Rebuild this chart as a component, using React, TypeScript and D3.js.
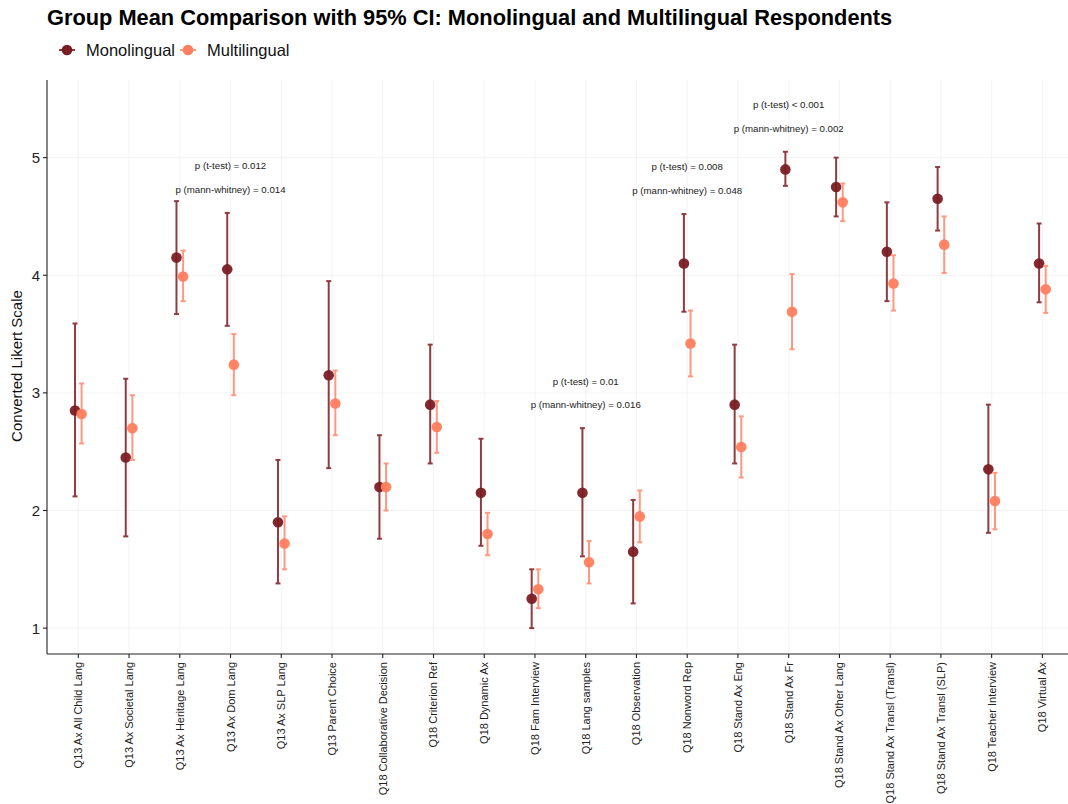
import React from 'react'
import * as d3 from 'd3'

const categories = [
  'Q13 Ax All Child Lang', 'Q13 Ax Societal Lang', 'Q13 Ax Heritage Lang', 'Q13 Ax Dom Lang',
  'Q13 Ax SLP Lang', 'Q13 Parent Choice', 'Q18 Collaborative Decision', 'Q18 Criterion Ref',
  'Q18 Dynamic Ax', 'Q18 Fam Interview', 'Q18 Lang samples', 'Q18 Observation',
  'Q18 Nonword Rep', 'Q18 Stand Ax Eng', 'Q18 Stand Ax Fr', 'Q18 Stand Ax Other Lang',
  'Q18 Stand Ax Transl (Transl)', 'Q18 Stand Ax Transl (SLP)', 'Q18 Teacher Interview', 'Q18 Virtual Ax',
]

// Monolingual: mean, lower CI, upper CI
const monoMean = [2.85, 2.45, 4.15, 4.05, 1.9, 3.15, 2.2, 2.9, 2.15, 1.25, 2.15, 1.65, 4.1, 2.9, 4.9, 4.75, 4.2, 4.65, 2.35, 4.1]
const monoLow = [2.12, 1.78, 3.67, 3.57, 1.38, 2.36, 1.76, 2.4, 1.7, 1.0, 1.61, 1.21, 3.69, 2.4, 4.76, 4.5, 3.78, 4.38, 1.81, 3.77]
const monoHigh = [3.59, 3.12, 4.63, 4.53, 2.43, 3.95, 2.64, 3.41, 2.61, 1.5, 2.7, 2.09, 4.52, 3.41, 5.05, 5.0, 4.62, 4.92, 2.9, 4.44]

// Multilingual: mean, lower CI, upper CI
const multiMean = [2.82, 2.7, 3.99, 3.24, 1.72, 2.91, 2.2, 2.71, 1.8, 1.33, 1.56, 1.95, 3.42, 2.54, 3.69, 4.62, 3.93, 4.26, 2.08, 3.88]
const multiLow = [2.57, 2.43, 3.78, 2.98, 1.5, 2.64, 2.0, 2.49, 1.62, 1.17, 1.38, 1.73, 3.14, 2.28, 3.37, 4.46, 3.7, 4.02, 1.84, 3.68]
const multiHigh = [3.08, 2.98, 4.21, 3.5, 1.95, 3.19, 2.4, 2.93, 1.98, 1.5, 1.74, 2.17, 3.7, 2.8, 4.01, 4.78, 4.17, 4.5, 2.32, 4.08]

// significant comparisons
const sigCategories = ['Q13 Ax Dom Lang', 'Q18 Lang samples', 'Q18 Nonword Rep', 'Q18 Stand Ax Fr']
const tTestLabels = ['p (t-test) = 0.012', 'p (t-test) = 0.01', 'p (t-test) = 0.008', 'p (t-test) < 0.001']
const mwLabels = ['p (mann-whitney) = 0.014', 'p (mann-whitney) = 0.016', 'p (mann-whitney) = 0.048', 'p (mann-whitney) = 0.002']

const yTicks = [1, 2, 3, 4, 5]

const groups = [
  { name: 'Monolingual', mean: monoMean, low: monoLow, high: monoHigh, point: '#7a1e24', bar: '#8f3c40', dx: -3.3 },
  { name: 'Multilingual', mean: multiMean, low: multiLow, high: multiHigh, point: '#ff7e5e', bar: '#ff9880', dx: 3.3 },
]

const FONT = '"Liberation Sans", Arial, sans-serif'

export default function App() {
  const W = 1068, H = 804
  const left = 47, top = 80, bottom = 654, right = 1068
  const x = d3.scalePoint<string>().domain(categories).range([78.3, 1042.4])
  const y = d3.scaleLinear().domain([0.78, 5.66]).range([bottom, top])
  const cap = 2.5

  return (
    <svg width={W} height={H} style={{ position: 'absolute', left: 0, top: 0, fontFamily: FONT }}>
      <rect width={W} height={H} fill="#fff" />
      {/* grid */}
      {yTicks.map(t => (
        <line key={'gy' + t} x1={left} x2={right} y1={y(t)} y2={y(t)} stroke="#f0f0f0" strokeWidth={0.8} />
      ))}
      {categories.map(c => (
        <line key={'gx' + c} x1={x(c)} x2={x(c)} y1={top} y2={bottom} stroke="#f0f0f0" strokeWidth={0.8} />
      ))}
      {/* axes */}
      <line x1={left} x2={left} y1={top} y2={bottom} stroke="#222" strokeWidth={1.1} />
      <line x1={left} x2={right} y1={bottom} y2={bottom} stroke="#222" strokeWidth={1.1} />
      {yTicks.map(t => (
        <g key={'yt' + t}>
          <line x1={left - 4} x2={left} y1={y(t)} y2={y(t)} stroke="#222" strokeWidth={1.1} />
          <text x={left - 7} y={y(t)} dy="0.36em" textAnchor="end" fontSize={15} fill="#222">{t}</text>
        </g>
      ))}
      {categories.map(c => (
        <g key={'xt' + c}>
          <line x1={x(c)} x2={x(c)} y1={bottom} y2={bottom + 4} stroke="#222" strokeWidth={1.1} />
          <text transform={`translate(${x(c)! + 4},${bottom + 8}) rotate(-90)`} textAnchor="end" fontSize={11} fill="#222">{c}</text>
        </g>
      ))}
      <text transform={`translate(22,366) rotate(-90)`} textAnchor="middle" fontSize={15} fill="#111">Converted Likert Scale</text>

      {/* error bars and points */}
      {groups.map(g => (
        <g key={g.name}>
          {categories.map((c, i) => {
            const cx = x(c)! + g.dx
            return (
              <g key={c}>
                <line x1={cx} x2={cx} y1={y(g.low[i])} y2={y(g.high[i])} stroke={g.bar} strokeWidth={2} />
                <line x1={cx - cap} x2={cx + cap} y1={y(g.low[i])} y2={y(g.low[i])} stroke={g.bar} strokeWidth={2} />
                <line x1={cx - cap} x2={cx + cap} y1={y(g.high[i])} y2={y(g.high[i])} stroke={g.bar} strokeWidth={2} />
                <circle cx={cx} cy={y(g.mean[i])} r={5.3} fill={g.point} fillOpacity={0.95} />
              </g>
            )
          })}
        </g>
      ))}

      {/* p-value annotations */}
      {sigCategories.map((c, k) => {
        const i = categories.indexOf(c)
        const hi = Math.max(monoHigh[i], multiHigh[i])
        return (
          <g key={'p' + c} fontSize={9.7} fill="#222" textAnchor="middle">
            <text x={x(c)} y={y(hi + 0.4)} dy="0.35em">{tTestLabels[k]}</text>
            <text x={x(c)} y={y(hi + 0.2)} dy="0.35em">{mwLabels[k]}</text>
          </g>
        )
      })}

      {/* title */}
      <text x={47} y={25} fontSize={21.8} fontWeight="bold" fill="#000">
        Group Mean Comparison with 95% CI: Monolingual and Multilingual Respondents
      </text>

      {/* legend */}
      {groups.map((g, k) => {
        const lx = k === 0 ? 67 : 188
        return (
          <g key={'lg' + g.name}>
            <line x1={lx - 8} x2={lx + 8} y1={50} y2={50} stroke={g.bar} strokeWidth={2} />
            <circle cx={lx} cy={50} r={5.3} fill={g.point} />
            <text x={lx + 19} y={50} dy="0.36em" fontSize={16.5} fill="#111">{g.name}</text>
          </g>
        )
      })}
    </svg>
  )
}
